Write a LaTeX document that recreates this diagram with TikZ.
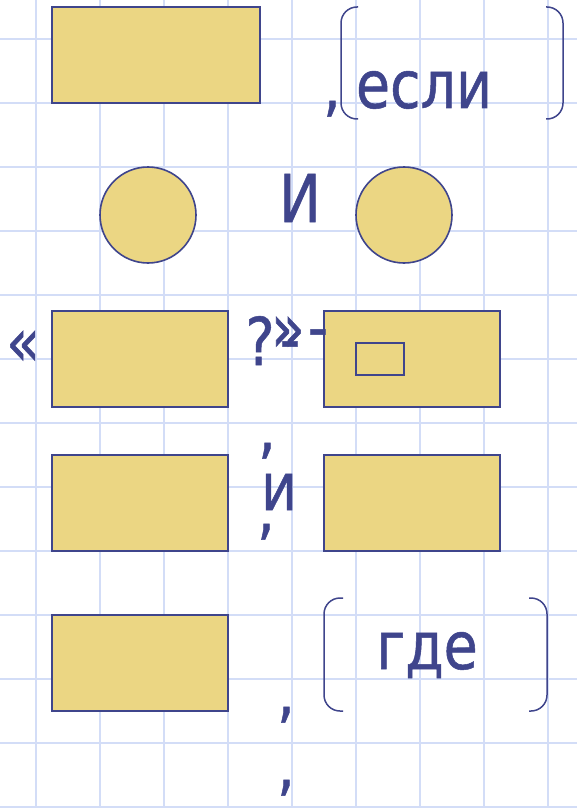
\documentclass[tikz,border=0pt]{standalone}
\usepackage{fontspec}
\setmainfont{DejaVu Sans}[FakeStretch=0.84, FakeBold=0.8]
\usetikzlibrary{positioning}
\definecolor{SheetInk}{HTML}{3F458C}
\definecolor{SheetFill}{HTML}{EBD683}
\definecolor{SheetGrid}{HTML}{D3DDF7}
\tikzset{
  every node/.style={text=SheetInk},
  slot/.style={draw=SheetInk, line width=1pt, fill=SheetFill,
    minimum width=88pt, minimum height=48pt, inner sep=0pt, outer sep=0pt},
  dot/.style={circle, draw=SheetInk, line width=0.8pt, fill=SheetFill,
    minimum size=48pt, inner sep=0pt},
  word/.style={font=\fontsize{33}{40}\selectfont, inner sep=0pt, anchor=base},
  gridline/.style={draw=SheetGrid, line width=1pt},
  bracket/.style={draw=SheetInk, line width=0.75pt, rounded corners=8pt},
}
\begin{document}
\begin{tikzpicture}[x=0.5pt,y=-0.5pt]
  \useasboundingbox (0,0) rectangle (577,808);
  \clip (0,0) rectangle (577,808);
  \fill[white] (0,0) rectangle (577,808);

  % Squared paper
  \foreach \gx in {36,100,...,548}
    \draw[gridline] (\gx,0) -- (\gx,808);
  \foreach \gy in {39,103,...,807}
    \draw[gridline] (0,\gy) -- (577,\gy);

  % First line: box, then the bracketed word
  \node[slot, minimum width=104pt] (topbox) at (156,55) {};
  \node[word] (comma1) at (332,109) {,};
  \draw[bracket] (358,7) -- (341,7) -- (341,119) -- (358,119);
  \draw[bracket] (546,7) -- (563,7) -- (563,119) -- (546,119);
  \node[word] (esli) at (424,108) {если};

  % Two circles joined by the letter
  \node[dot] (leftdot) at (148,215) {};
  \node[dot] (rightdot) at (404,215) {};
  \node[word] (bigI) at (300,222) {И};

  % Quoted box with a dash and the second box
  \node[slot] (quotebox) at (140,359) {};
  \node[slot, right=48pt of quotebox] (dashbox) {};
  \node[draw=SheetInk, line width=0.75pt, minimum width=24pt, minimum height=16pt,
        inner sep=0pt] (smallbox) at (380,359) {};
  \node[word] (openquote) at (23,365) {«};
  \node[word] (question) at (260,365) {?};
  \node[word] (closequote) at (288,351) {»};
  \node[word] (dash1) at (318,350) {-};
  \node[word] (dash2) at (290,362) {-};

  % Pair of boxes with the conjunction between commas
  \node[slot, below=24pt of quotebox] (pairleft) {};
  \node[slot, below=24pt of dashbox] (pairright) {};
  \node[word] (comma2) at (267,451) {,};
  \node[word] (smallI) at (279,510) {и};
  \node[word] (comma3) at (266,532) {,};

  % Last box and the bracketed word
  \node[slot, below=32pt of pairleft] (lastbox) {};
  \draw[bracket] (343,598) -- (324,598) -- (324,711) -- (343,711);
  \draw[bracket] (529,598) -- (547,598) -- (547,711) -- (529,711);
  \node[word] (gde) at (427,669) {где};
  \node[word] (comma4) at (286,715) {,};
  \node[word] (comma5) at (286,788) {,};
\end{tikzpicture}
\end{document}
